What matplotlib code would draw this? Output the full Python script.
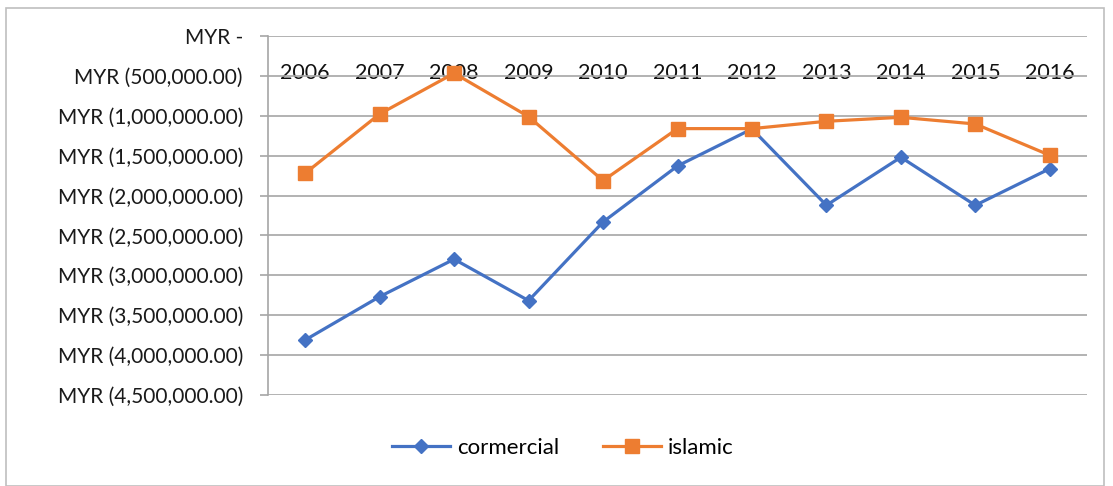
import matplotlib
matplotlib.use("Agg")
import matplotlib.pyplot as plt
from matplotlib.patches import Rectangle

years = ['2006', '2007', '2008', '2009', '2010', '2011',
         '2012', '2013', '2014', '2015', '2016']

cormercial = [-3810000, -3267000, -2798000, -3317000, -2331000, -1629000,
              -1165000, -2122000, -1520000, -2122000, -1663000]
islamic = [-1720000, -977000, -467000, -1011000, -1813000, -1161000,
           -1161000, -1069000, -1019000, -1103000, -1495000]

y_ticks = [0, -500000, -1000000, -1500000, -2000000, -2500000,
           -3000000, -3500000, -4000000, -4500000]


def myr(v):
    if v == 0:
        return 'MYR -'
    return 'MYR ({:,.2f})'.format(abs(v))


plt.rcParams['font.family'] = ['Lato', 'DejaVu Sans']
grid_col = '#a6a6a6'

fig = plt.figure(figsize=(11.13, 4.86), dpi=100)
ax = fig.add_axes([268 / 1113, 1 - 395 / 486, (1087 - 268) / 1113, (395 - 36) / 486])

x = range(len(years))
ax.plot(x, cormercial, color='#4472C4', lw=2.3, marker='D', ms=7,
        label='cormercial', zorder=3)
ax.plot(x, islamic, color='#ED7D31', lw=2.3, marker='s', ms=10,
        label='islamic', zorder=3)

ax.set_xlim(-0.5, len(years) - 0.5)
ax.set_ylim(-4500000, 0)
ax.set_yticks(y_ticks)
ax.set_yticklabels([myr(v) for v in y_ticks], fontsize=15, color='#1a1a1a')
ax.yaxis.grid(True, color=grid_col, lw=1.2)
ax.set_axisbelow(True)

ax.set_xticks(list(x))
ax.set_xticklabels(years, fontsize=15.5, color='#111111')
ax.tick_params(axis='x', length=0, bottom=False, labelbottom=False,
               top=False, labeltop=True, pad=-34)
ax.tick_params(axis='y', length=6, color=grid_col, width=1.2, pad=12)

for side in ['right', 'bottom', 'top']:
    ax.spines[side].set_visible(False)
ax.spines['left'].set_color(grid_col)
ax.spines['left'].set_linewidth(1.2)

fig.legend(loc='center', bbox_to_anchor=(563 / 1113, 1 - 448 / 486), ncol=2,
           frameon=False, fontsize=16, handlelength=2.6, columnspacing=2.0,
           handletextpad=0.3)

# outer chart border
fig.patches.append(Rectangle((6 / 1113, 0), 1098 / 1113, 1 - 8 / 486,
                             transform=fig.transFigure, fill=False,
                             edgecolor='#bfbfbf', lw=1.2))

fig.savefig('out.png', dpi=100)
